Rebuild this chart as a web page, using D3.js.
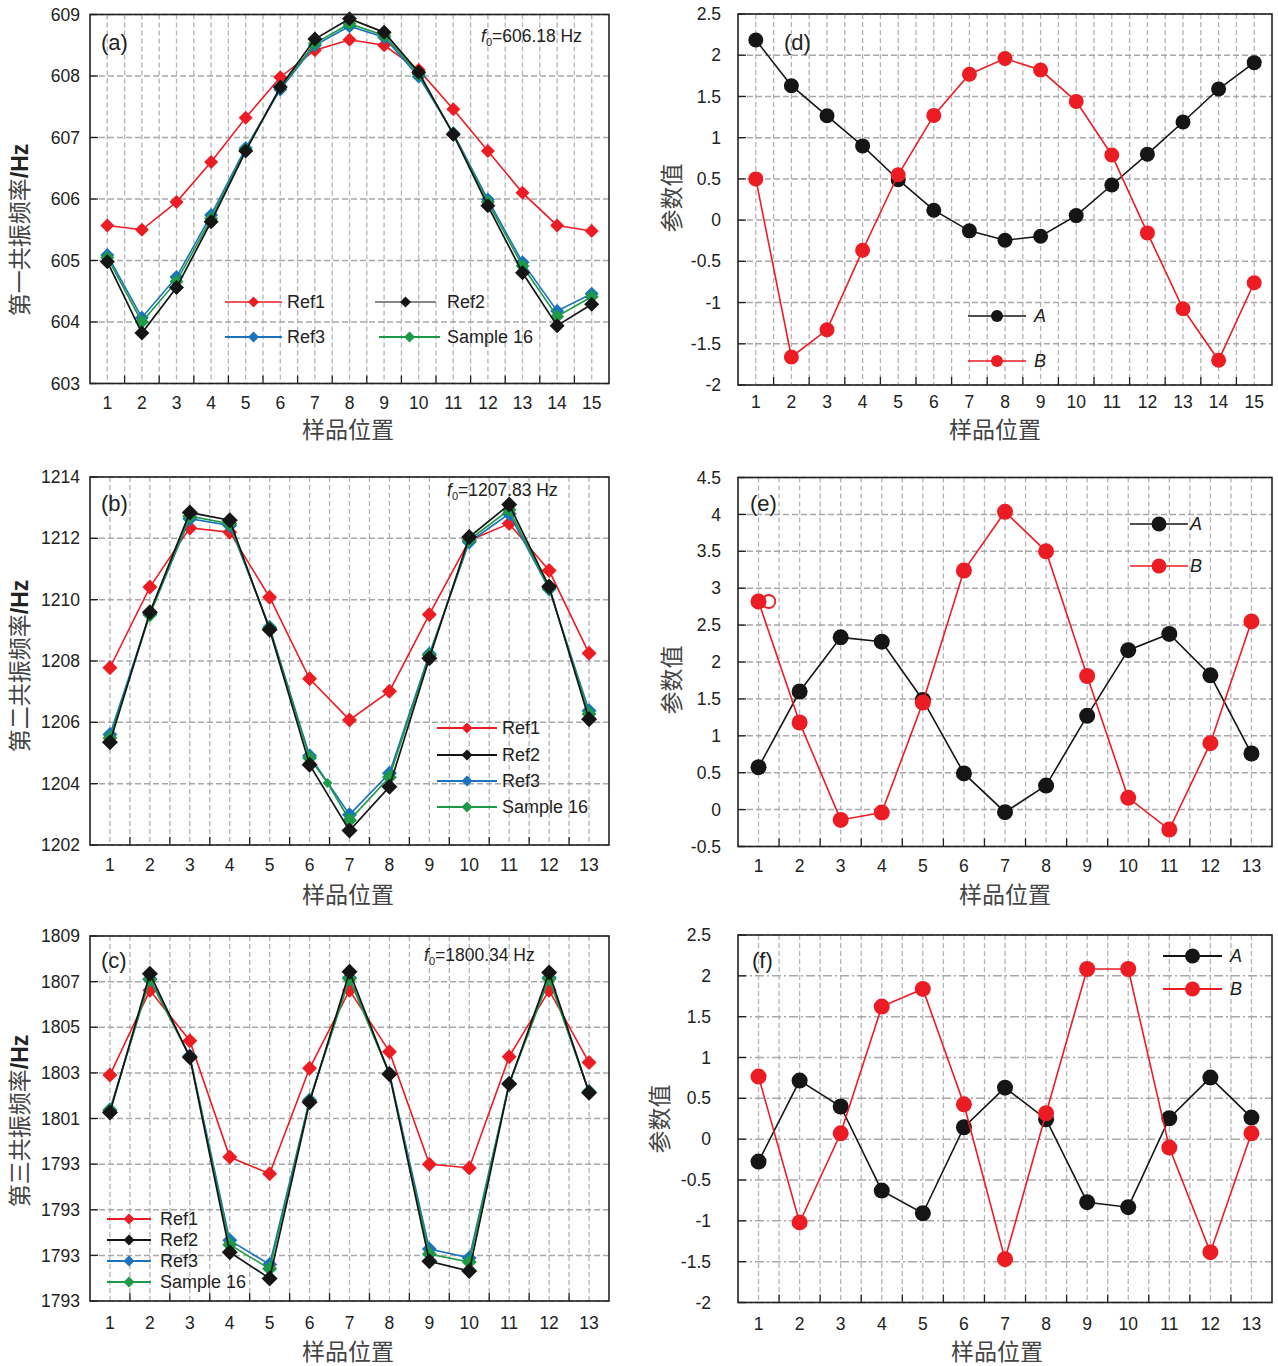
<!DOCTYPE html>
<html><head><meta charset="utf-8">
<script src="https://cdn.jsdelivr.net/npm/d3@7"></script>
<style>
body{margin:0;background:#fff}
svg text{font-family:"Liberation Sans",Arial,"Noto Sans CJK SC",sans-serif}
</style>
</head><body>
<svg id="chart" width="1278" height="1366"></svg>
<script>
// ---------------- DATA ----------------
const pos15 = [1,2,3,4,5,6,7,8,9,10,11,12,13,14,15];
const pos13 = [1,2,3,4,5,6,7,8,9,10,11,12,13];
const xLabels15 = ["1","2","3","4","5","6","7","8","9","10","11","12","13","14","15"];
const xLabels13 = ["1","2","3","4","5","6","7","8","9","10","11","12","13"];

// (a) first resonance frequency
const aTicks = [603,604,605,606,607,608,609];
const aTickLabels = ["603","604","605","606","607","608","609"];
const aRef1 = [605.57,605.50,605.95,606.60,607.32,607.98,608.42,608.59,608.50,608.10,607.46,606.78,606.10,605.57,605.48];
const aRef2 = [604.98,603.82,604.56,605.63,606.78,607.82,608.60,608.93,608.71,608.06,607.05,605.89,604.80,603.94,604.29];
const aRef3 = [605.09,604.07,604.73,605.74,606.83,607.78,608.50,608.81,608.63,607.99,607.07,605.99,604.97,604.18,604.46];
const aS16  = [605.05,604.00,604.66,605.68,606.80,607.81,608.53,608.85,608.66,608.03,607.06,605.95,604.91,604.09,604.41];

// (b) second resonance frequency
const bTicks = [1202,1204,1206,1208,1210,1212,1214];
const bTickLabels = ["1202","1204","1206","1208","1210","1212","1214"];
const bRef1 = [1207.78,1210.41,1212.34,1212.20,1210.08,1207.42,1206.08,1207.01,1209.52,1211.93,1212.48,1210.95,1208.25];
const bRef2 = [1205.35,1209.59,1212.84,1212.59,1209.02,1204.62,1202.47,1203.90,1208.09,1212.04,1213.10,1210.43,1206.10];
const bRef3 = [1205.60,1209.54,1212.64,1212.42,1209.10,1204.91,1202.99,1204.34,1208.23,1211.88,1212.80,1210.35,1206.38];
const bS16Pos = [1,2,3,4,5,6,6.45,7,8,9,10,11,12,13];
const bS16  = [1205.49,1209.51,1212.72,1212.48,1209.07,1204.84,1204.02,1202.81,1204.21,1208.18,1211.95,1212.93,1210.38,1206.27];

// (c) third resonance frequency (tick labels as printed)
const cTicks = [1793,1795,1797,1799,1801,1803,1805,1807,1809];
const cTickLabels = ["1793","1793","1793","1793","1801","1803","1805","1807","1809"];
const cRef1 = [1802.91,1806.62,1804.41,1799.31,1798.58,1803.20,1806.62,1803.93,1799.00,1798.83,1803.71,1806.62,1803.45];
const cRef2 = [1801.26,1807.35,1803.68,1795.14,1793.99,1801.71,1807.43,1802.94,1794.74,1794.31,1802.51,1807.40,1802.13];
const cRef3 = [1801.38,1807.13,1803.74,1795.66,1794.60,1801.81,1807.18,1802.98,1795.28,1794.89,1802.54,1807.18,1802.18];
const cS16  = [1801.35,1807.09,1803.71,1795.47,1794.41,1801.77,1807.13,1802.95,1795.06,1794.71,1802.53,1807.13,1802.15];

// (d) parameters
const dTicks = [-2,-1.5,-1,-0.5,0,0.5,1,1.5,2,2.5];
const dTickLabels = ["-2","-1.5","-1","-0.5","0","0.5","1","1.5","2","2.5"];
const dA = [2.185,1.63,1.265,0.90,0.49,0.12,-0.13,-0.244,-0.196,0.055,0.426,0.80,1.19,1.59,1.91];
const dB = [0.50,-1.66,-1.33,-0.365,0.55,1.27,1.77,1.96,1.82,1.44,0.79,-0.155,-1.075,-1.70,-0.76];

// (e) parameters
const eTicks = [-0.5,0,0.5,1,1.5,2,2.5,3,3.5,4,4.5];
const eTickLabels = ["-0.5","0","0.5","1","1.5","2","2.5","3","3.5","4","4.5"];
const eA = [0.574,1.60,2.334,2.275,1.486,0.49,-0.035,0.326,1.27,2.16,2.38,1.82,0.76];
const eB = [2.82,1.18,-0.14,-0.04,1.45,3.24,4.035,3.50,1.81,0.16,-0.27,0.90,2.55];
const eHollowPos = [1.25];
const eHollowVal = [2.82];

// (f) parameters
const fTicks = [-2,-1.5,-1,-0.5,0,0.5,1,1.5,2,2.5];
const fTickLabels = ["-2","-1.5","-1","-0.5","0","0.5","1","1.5","2","2.5"];
const fA = [-0.274,0.717,0.40,-0.63,-0.907,0.146,0.631,0.244,-0.772,-0.833,0.256,0.754,0.264];
const fB = [0.766,-1.02,0.072,1.623,1.84,0.427,-1.47,0.317,2.084,2.084,-0.103,-1.384,0.072];

// ---------------- STYLE ----------------
const RED = "#ec1c24", BLACK = "#151515", BLUE = "#1b72bd", GREEN = "#1c9a48";
const svg = d3.select("#chart");

function diamond(h){ return `M0,${-h}L${h},0L0,${h}L${-h},0Z`; }

function panel(o){
  const g = svg.append("g");
  const x = d3.scaleLinear().domain(o.xDomain).range([o.L, o.R]);
  const y = d3.scaleLinear().domain([o.yTicks[0], o.yTicks[o.yTicks.length-1]]).range([o.B, o.T]);

  // vertical grid every half unit
  const vgrid = [];
  for (let v = 1; v <= o.xDomain[1] - 0.4; v += 0.5) vgrid.push(v);
  g.selectAll(".vg").data(vgrid).join("line")
    .attr("x1", d => x(d)).attr("x2", d => x(d)).attr("y1", o.T).attr("y2", o.B)
    .attr("stroke", "#b4b4b4").attr("stroke-width", 1.3).attr("stroke-dasharray", "5,3");
  // horizontal grid
  g.selectAll(".hg").data(o.yTicks).join("line")
    .attr("x1", o.L).attr("x2", o.R).attr("y1", d => y(d)).attr("y2", d => y(d))
    .attr("stroke", "#a8a8a8").attr("stroke-width", 1.5)
    .attr("stroke-dasharray", o.dashDot ? "9,3,2,3" : "6,3");

  // series
  o.series.forEach(s => {
    const px = s.pos || o.pos;
    const pts = s.vals.map((v, i) => [x(px[i]), y(v)]);
    g.append("path").attr("d", d3.line()(pts)).attr("fill", "none")
      .attr("stroke", s.color).attr("stroke-width", s.lw || 1.6);
    if (s.shape === "diamond") {
      g.selectAll(null).data(pts).join("path")
        .attr("d", (d, i) => diamond(Number.isInteger(px[i]) ? (s.size || 7) : 5))
        .attr("transform", d => `translate(${d[0]},${d[1]})`)
        .attr("fill", s.color);
    } else {
      g.selectAll(null).data(pts).join("circle")
        .attr("cx", d => d[0]).attr("cy", d => d[1]).attr("r", s.size || 8)
        .attr("fill", s.color);
    }
  });
  if (o.extra) o.extra(g, x, y);

  // axes ticks
  const xt = [];
  for (let v = 1.5; v < o.xDomain[1] - 0.4; v += 1) xt.push(v);
  g.selectAll(".xt").data(xt).join("line")
    .attr("x1", d => x(d)).attr("x2", d => x(d)).attr("y1", o.B).attr("y2", o.B - 8)
    .attr("stroke", "#222").attr("stroke-width", 1.3);
  g.selectAll(".yt").data(o.yTicks).join("line")
    .attr("x1", o.L).attr("x2", o.L + 8).attr("y1", d => y(d)).attr("y2", d => y(d))
    .attr("stroke", "#222").attr("stroke-width", 1.3);
  // frame
  g.append("rect").attr("x", o.L).attr("y", o.T).attr("width", o.R - o.L).attr("height", o.B - o.T)
    .attr("fill", "none").attr("stroke", "#222").attr("stroke-width", 1.6);

  // tick labels
  g.selectAll(".yl").data(o.yTicks).join("text")
    .attr("x", o.L - o.yLabGap).attr("y", d => y(d)).attr("dy", "0.35em")
    .attr("text-anchor", "end").attr("font-size", 17.5).attr("fill", "#222")
    .text((d, i) => o.yLabels[i]);
  g.selectAll(".xl").data(o.pos).join("text")
    .attr("x", d => x(d)).attr("y", o.B + o.xLabOff)
    .attr("text-anchor", "middle").attr("font-size", 17.5).attr("fill", "#222")
    .text((d, i) => o.xLabels[i]);

  // titles
  g.append("text").attr("x", o.xTitle[0]).attr("y", o.xTitle[1]).attr("text-anchor", "middle")
    .attr("font-size", 23).attr("fill", "#444").text("样品位置");
  const yt = g.append("text").attr("transform", `translate(${o.yTitle[0]},${o.yTitle[1]}) rotate(-90)`)
    .attr("text-anchor", "middle").attr("dy", "0.35em").attr("font-size", 23).attr("fill", "#444");
  yt.append("tspan").text(o.yTitleText);
  if (o.yTitleUnit) yt.append("tspan").attr("font-weight", "bold").attr("fill", "#222").text(o.yTitleUnit);

  // panel letter
  g.append("text").attr("x", o.letter[0]).attr("y", o.letter[1]).attr("font-size", 22)
    .attr("fill", "#222").text(o.letterText);
  // f0 note
  if (o.f0) {
    const t = g.append("text").attr("x", o.f0[0]).attr("y", o.f0[1]).attr("font-size", 17.5).attr("fill", "#222");
    t.append("tspan").attr("font-style", "italic").text("f");
    t.append("tspan").attr("font-size", 11).attr("dy", 4).text("0");
    t.append("tspan").attr("dy", -4).text("=" + o.f0Text);
  }

  // legend
  o.legend.forEach(l => {
    g.append("line").attr("x1", l.x1).attr("x2", l.x2).attr("y1", l.y).attr("y2", l.y)
      .attr("stroke", l.color).attr("stroke-width", l.lw || 1.8);
    const mx = (l.x1 + l.x2) / 2;
    if (l.shape === "diamond") {
      g.append("path").attr("d", diamond(5.5)).attr("transform", `translate(${mx},${l.y})`).attr("fill", l.color);
    } else {
      g.append("circle").attr("cx", mx).attr("cy", l.y).attr("r", l.r || 7).attr("fill", l.color);
    }
    g.append("text").attr("x", l.tx).attr("y", l.y).attr("dy", "0.36em")
      .attr("font-size", 18).attr("fill", "#222")
      .attr("font-style", l.italic ? "italic" : "normal").text(l.label);
  });
}

const freqSeries = (r1, r2, r3, s16, s16pos, sz) => [
  {vals: r1, color: RED, shape: "diamond", size: sz, lw: 1.6},
  {vals: r3, color: BLUE, shape: "diamond", size: sz, lw: 1.6},
  {vals: s16, pos: s16pos, color: GREEN, shape: "diamond", size: sz, lw: 1.6},
  {vals: r2, color: BLACK, shape: "diamond", size: sz + 0.5, lw: 1.7}
];

// (a)
panel({
  L: 90, R: 609, T: 14.5, B: 383.5, xDomain: [0.5, 15.5], pos: pos15, xLabels: xLabels15,
  yTicks: aTicks, yLabels: aTickLabels, yLabGap: 10, xLabOff: 25,
  series: freqSeries(aRef1, aRef2, aRef3, aS16, null, 7),
  xTitle: [348, 438], yTitle: [20, 230], yTitleText: "第一共振频率", yTitleUnit: "/Hz",
  letter: [101, 50], letterText: "(a)", f0: [481, 42], f0Text: "606.18 Hz",
  legend: [
    {x1: 225, x2: 282, y: 302, tx: 287, color: RED, shape: "diamond", label: "Ref1", lw: 1.6},
    {x1: 375, x2: 436, y: 302, tx: 447, color: BLACK, shape: "diamond", label: "Ref2", lw: 1.2},
    {x1: 225, x2: 282, y: 337, tx: 287, color: BLUE, shape: "diamond", label: "Ref3", lw: 2},
    {x1: 379, x2: 440, y: 337, tx: 447, color: GREEN, shape: "diamond", label: "Sample 16", lw: 2}
  ]
});

// (b)
panel({
  L: 90, R: 609, T: 477, B: 845, xDomain: [0.5, 13.5], pos: pos13, xLabels: xLabels13,
  yTicks: bTicks, yLabels: bTickLabels, yLabGap: 10, xLabOff: 26,
  series: freqSeries(bRef1, bRef2, bRef3, bS16, bS16Pos, 7.5),
  xTitle: [348, 903], yTitle: [20, 666], yTitleText: "第二共振频率", yTitleUnit: "/Hz",
  letter: [101, 511], letterText: "(b)", f0: [447, 496], f0Text: "1207.83 Hz",
  legend: [
    {x1: 437, x2: 497, y: 728, tx: 502, color: RED, shape: "diamond", label: "Ref1"},
    {x1: 437, x2: 497, y: 755, tx: 502, color: BLACK, shape: "diamond", label: "Ref2"},
    {x1: 437, x2: 497, y: 781, tx: 502, color: BLUE, shape: "diamond", label: "Ref3"},
    {x1: 437, x2: 497, y: 807, tx: 502, color: GREEN, shape: "diamond", label: "Sample 16"}
  ]
});

// (c)
panel({
  L: 90, R: 609, T: 936, B: 1301, xDomain: [0.5, 13.5], pos: pos13, xLabels: xLabels13,
  yTicks: cTicks, yLabels: cTickLabels, yLabGap: 10, xLabOff: 28,
  series: freqSeries(cRef1, cRef2, cRef3, cS16, null, 7.5),
  xTitle: [348, 1360], yTitle: [20, 1121], yTitleText: "第三共振频率", yTitleUnit: "/Hz",
  letter: [101, 968], letterText: "(c)", f0: [424, 961], f0Text: "1800.34 Hz",
  legend: [
    {x1: 107, x2: 151, y: 1219, tx: 160, color: RED, shape: "diamond", label: "Ref1"},
    {x1: 107, x2: 151, y: 1240, tx: 160, color: BLACK, shape: "diamond", label: "Ref2"},
    {x1: 107, x2: 151, y: 1261, tx: 160, color: BLUE, shape: "diamond", label: "Ref3"},
    {x1: 107, x2: 151, y: 1282, tx: 160, color: GREEN, shape: "diamond", label: "Sample 16"}
  ]
});

const paramSeries = (A, B, r) => [
  {vals: A, color: BLACK, shape: "circle", size: r, lw: 1.6},
  {vals: B, color: RED, shape: "circle", size: r, lw: 1.6}
];

// (d)
panel({
  L: 738, R: 1272, T: 14, B: 385, xDomain: [0.5, 15.5], pos: pos15, xLabels: xLabels15,
  yTicks: dTicks, yLabels: dTickLabels, yLabGap: 17, xLabOff: 23,
  series: paramSeries(dA, dB, 7.5),
  xTitle: [995, 438], yTitle: [672, 198], yTitleText: "参数值",
  letter: [784, 50], letterText: "(d)",
  legend: [
    {x1: 968, x2: 1026, y: 316, tx: 1034, color: BLACK, shape: "circle", r: 6, label: "A", italic: true, lw: 1.3},
    {x1: 968, x2: 1026, y: 361, tx: 1034, color: RED, shape: "circle", r: 6, label: "B", italic: true, lw: 1.3}
  ]
});

// (e)
panel({
  L: 738, R: 1272, T: 477.5, B: 846.5, xDomain: [0.5, 13.5], pos: pos13, xLabels: xLabels13,
  yTicks: eTicks, yLabels: eTickLabels, yLabGap: 17, xLabOff: 25,
  series: paramSeries(eA, eB, 8),
  extra: (g, x, y) => {
    g.selectAll(null).data(eHollowPos).join("circle")
      .attr("cx", d => x(d)).attr("cy", (d, i) => y(eHollowVal[i])).attr("r", 6.5)
      .attr("fill", "none").attr("stroke", RED).attr("stroke-width", 1.8);
  },
  xTitle: [1005, 903], yTitle: [672, 680], yTitleText: "参数值",
  letter: [750, 511], letterText: "(e)",
  legend: [
    {x1: 1130, x2: 1188, y: 524, tx: 1190, color: BLACK, shape: "circle", r: 7.5, label: "A", italic: true, lw: 1.5},
    {x1: 1130, x2: 1188, y: 566, tx: 1190, color: RED, shape: "circle", r: 7.5, label: "B", italic: true, lw: 1.5}
  ]
});

// (f)
panel({
  L: 738, R: 1272, T: 935, B: 1302.5, xDomain: [0.5, 13.5], pos: pos13, xLabels: xLabels13,
  yTicks: fTicks, yLabels: fTickLabels, yLabGap: 27, xLabOff: 27, dashDot: true,
  series: paramSeries(fA, fB, 8),
  xTitle: [997, 1360], yTitle: [660, 1119], yTitleText: "参数值",
  letter: [752, 968], letterText: "(f)",
  legend: [
    {x1: 1163, x2: 1222, y: 956, tx: 1230, color: BLACK, shape: "circle", r: 7.5, label: "A", italic: true, lw: 2},
    {x1: 1163, x2: 1222, y: 989, tx: 1230, color: RED, shape: "circle", r: 7.5, label: "B", italic: true, lw: 2}
  ]
});
</script>
</body></html>
